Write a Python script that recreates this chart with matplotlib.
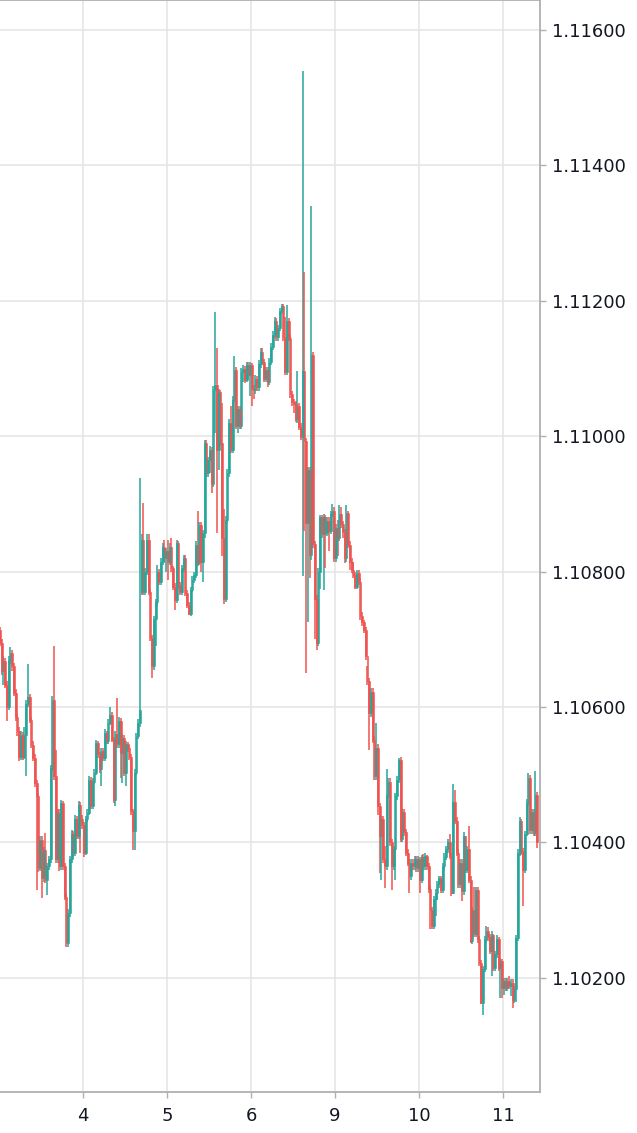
import numpy as np
import matplotlib
matplotlib.use("Agg")
import matplotlib.pyplot as plt

# EURUSD 30-minute candles, values in pips above 1.1000
base = 1.1
close_pips = [
    # day 3
    69.5, 65.3, 66.8, 63.3, 60.0, 67.0, 68.0, 66.0, 62.1, 58.6, 56.4, 52.7,
    55.9, 52.7, 55.9, 60.4, 61.5, 58.1, 54.4, 52.5, 48.8, 46.8, 36.2, 40.4,
    34.7, 38.9, 34.5, 36.5, 37.5, 51.0, 61.1, 49.8, 37.5, 44.4, 36.5, 45.8,
    36.5, 32.0, 25.1, 29.6, 37.5, 41.2, 38.4, 43.4, 41.0, 45.6, 43.5, 42.6,
    # day 4
    38.5, 43.4, 44.4, 49.3, 45.4, 49.0, 50.3, 54.7, 53.0, 50.8, 53.5, 52.5,
    56.2, 55.0, 57.7, 58.9, 55.2, 46.3, 56.0, 54.5, 58.0, 53.2, 55.5, 50.3,
    54.5, 54.0, 52.7, 44.6, 41.7, 50.3, 55.7, 57.7, 59.5, 84.7, 77.0, 80.0,
    84.7, 77.0, 70.2, 66.0, 73.0, 75.5, 80.0, 78.5, 81.5, 83.7, 82.0, 83.0,
    # day 5
    81.5, 83.7, 80.5, 77.8, 75.8, 84.2, 78.0, 77.0, 80.5, 82.0, 76.9, 75.1,
    73.8, 77.3, 78.8, 79.5, 84.0, 81.3, 86.9, 81.5, 85.7, 99.0, 94.6, 96.5,
    98.0, 93.0, 106.9, 107.5, 98.0, 106.5, 99.0, 85.0, 76.0, 87.7, 94.6, 102.0,
    98.0, 105.4, 109.8, 101.5, 104.0, 101.5, 109.5, 110.0, 108.3, 110.5, 109.0, 110.5,
    # day 6
    107.0, 106.8, 108.5, 107.2, 110.6, 112.5, 111.0, 108.5, 109.8, 108.0, 111.0, 113.2,
    115.0, 117.0, 114.6, 116.0, 118.5, 119.2, 114.6, 109.5, 117.0, 114.5, 106.2, 105.0,
    104.8, 102.6, 104.5, 101.4, 99.9, 109.6, 99.3, 87.2, 95.0, 82.5, 112.0, 84.1,
    76.0, 69.5, 80.0, 88.0, 85.5, 88.0, 85.7, 87.5, 86.0, 88.5, 89.0, 82.0,
    # day 9
    86.5, 85.0, 88.5, 87.0, 85.8, 82.0, 88.7, 84.0, 81.5, 80.3, 79.5, 77.8,
    79.8, 78.5, 73.4, 72.5, 71.4, 67.5, 63.8, 59.1, 62.3, 55.2, 49.8, 54.0,
    45.4, 40.9, 43.4, 37.5, 36.5, 47.0, 49.0, 40.0, 36.5, 39.0, 46.8, 49.3,
    52.2, 40.5, 44.5, 41.5, 38.5, 37.0, 35.0, 37.0, 36.5, 37.5, 36.2, 37.5,
    # day 10
    34.5, 37.8, 36.5, 38.0, 36.5, 33.1, 30.0, 27.7, 31.6, 32.6, 33.8, 34.8,
    33.0, 36.5, 37.9, 39.0, 40.0, 38.0, 32.6, 46.0, 43.2, 38.5, 33.8, 37.0,
    32.8, 41.0, 36.0, 39.0, 34.5, 25.4, 30.0, 26.5, 33.0, 25.7, 22.2, 16.3,
    21.3, 25.7, 27.0, 26.0, 24.0, 26.4, 21.5, 23.5, 25.8, 21.5, 22.5, 18.5,
    # day 11
    19.5, 18.5, 19.5, 18.8, 19.3, 16.8, 18.3, 25.9, 38.5, 43.2, 38.7, 36.0,
    41.2, 45.9, 49.5, 41.8, 44.5, 41.4, 47.0, 40.0,
]
high_pips = [
    71.8, 70.0, 67.5, 67.2, 63.8, 67.6, 68.9, 68.4, 66.5, 62.6, 59.0, 57.0,
    56.4, 56.3, 57.0, 61.0, 66.3, 62.0, 58.6, 55.0, 53.0, 49.2, 47.2, 41.0,
    40.9, 39.4, 41.4, 37.0, 38.0, 51.5, 61.6, 69.0, 53.7, 45.0, 44.9, 46.3,
    46.2, 37.0, 32.5, 30.2, 38.0, 41.8, 41.7, 44.0, 43.9, 46.1, 46.0, 44.0,
    43.0, 43.9, 45.0, 49.8, 49.7, 49.5, 50.8, 55.2, 55.0, 53.4, 54.0, 54.0,
    56.7, 56.5, 58.2, 60.0, 59.3, 55.6, 56.5, 61.3, 58.5, 58.4, 56.0, 55.9,
    55.0, 54.8, 54.3, 53.0, 45.0, 50.8, 56.2, 58.2, 93.8, 85.5, 90.1, 80.5,
    85.5, 85.5, 77.5, 70.6, 73.5, 76.0, 81.0, 80.4, 82.0, 84.2, 84.7, 83.5,
    84.7, 84.2, 84.9, 80.9, 78.3, 84.7, 84.5, 78.5, 81.0, 82.5, 82.4, 77.3,
    75.5, 77.8, 79.3, 80.0, 84.5, 88.9, 87.4, 87.3, 86.2, 99.5, 99.5, 97.0,
    98.5, 98.4, 107.4, 118.4, 113.0, 107.0, 106.9, 104.9, 89.2, 88.2, 95.1, 102.5,
    104.4, 105.9, 111.8, 110.3, 104.5, 104.4, 110.1, 110.5, 110.4, 111.0, 110.9, 111.0,
    110.8, 107.5, 109.0, 108.9, 111.3, 113.1, 113.0, 111.4, 110.3, 110.2, 111.5, 113.7,
    115.5, 117.6, 117.4, 116.5, 119.0, 119.6, 119.6, 117.6, 119.4, 117.4, 114.9, 106.7,
    105.5, 105.2, 109.6, 104.9, 101.9, 153.9, 124.2, 99.8, 95.5, 95.4, 134.0, 112.4,
    84.6, 76.5, 80.5, 88.4, 88.4, 88.5, 88.4, 88.0, 88.0, 89.0, 90.0, 89.5,
    87.0, 87.7, 89.9, 89.6, 87.5, 86.3, 89.9, 89.0, 84.5, 82.0, 81.5, 80.0,
    80.3, 80.3, 79.0, 74.0, 72.8, 71.9, 66.0, 64.3, 62.8, 62.8, 55.7, 57.7,
    54.5, 45.9, 43.9, 43.9, 39.5, 50.8, 49.5, 49.5, 40.5, 39.5, 47.3, 49.8,
    52.5, 52.7, 45.0, 44.9, 42.0, 39.0, 37.5, 37.5, 37.5, 38.0, 38.0, 38.0,
    37.9, 38.2, 38.3, 38.5, 38.2, 37.0, 33.6, 30.5, 32.1, 33.1, 34.3, 35.0,
    35.0, 37.0, 38.4, 39.5, 40.5, 41.2, 38.5, 48.6, 47.8, 43.7, 39.0, 37.5,
    37.5, 41.5, 41.0, 39.5, 42.4, 35.0, 30.5, 33.5, 33.5, 33.5, 26.2, 22.7,
    21.8, 26.2, 27.7, 27.5, 26.5, 26.9, 26.5, 24.0, 26.4, 26.0, 23.0, 22.8,
    20.0, 20.0, 20.0, 20.3, 19.8, 19.8, 18.8, 26.4, 39.0, 43.7, 43.5, 39.2,
    41.7, 46.4, 50.3, 50.0, 45.0, 45.0, 50.5, 47.5,
]
low_pips = [
    69.0, 64.8, 63.3, 62.8, 57.9, 59.5, 66.4, 65.4, 61.6, 58.0, 55.8, 52.0,
    52.2, 52.2, 52.3, 49.8, 60.0, 57.6, 53.9, 52.0, 48.2, 33.0, 35.6, 35.8,
    31.8, 34.2, 34.0, 32.3, 36.0, 37.0, 50.5, 49.3, 37.0, 37.0, 35.8, 36.0,
    36.0, 31.5, 24.6, 24.6, 29.0, 37.0, 37.9, 38.0, 40.5, 40.5, 38.4, 42.0,
    37.9, 38.2, 43.0, 44.0, 45.0, 45.0, 48.6, 50.0, 52.5, 50.3, 48.3, 52.0,
    52.0, 54.5, 54.6, 57.3, 54.8, 45.8, 45.4, 54.0, 54.0, 49.5, 48.8, 49.8,
    48.3, 53.3, 52.2, 44.0, 38.9, 38.9, 50.0, 55.3, 57.0, 76.5, 76.5, 76.5,
    79.5, 76.5, 69.7, 64.3, 65.5, 69.0, 75.0, 78.0, 78.0, 81.0, 81.5, 80.0,
    78.7, 81.0, 80.0, 77.3, 74.4, 75.3, 77.5, 76.5, 76.5, 80.0, 76.4, 74.6,
    73.6, 73.5, 77.0, 78.3, 79.0, 80.8, 81.0, 80.0, 78.5, 85.0, 94.0, 94.0,
    94.5, 91.6, 92.5, 100.5, 85.7, 95.0, 98.5, 82.3, 75.2, 75.5, 87.2, 94.0,
    97.5, 97.5, 105.0, 101.0, 100.5, 101.0, 101.0, 108.0, 107.8, 108.0, 108.5, 106.0,
    104.4, 105.5, 106.3, 106.7, 106.7, 110.1, 110.5, 108.0, 108.0, 107.3, 107.5, 110.5,
    112.7, 114.5, 114.1, 114.1, 115.5, 118.0, 114.1, 109.0, 109.0, 114.0, 105.7, 104.5,
    103.5, 102.1, 102.0, 100.9, 99.4, 79.3, 86.0, 65.0, 72.6, 79.0, 81.7, 83.5,
    70.0, 68.5, 69.0, 77.5, 85.0, 77.3, 80.5, 85.2, 83.0, 85.5, 88.0, 81.5,
    81.5, 82.3, 84.5, 86.5, 85.0, 81.3, 81.5, 83.5, 80.3, 79.8, 79.0, 77.4,
    77.4, 78.0, 72.9, 72.0, 70.9, 67.0, 63.3, 53.7, 58.6, 54.7, 49.3, 49.3,
    44.1, 35.5, 34.5, 37.0, 33.3, 36.0, 46.5, 39.5, 33.0, 36.0, 34.5, 46.3,
    48.8, 40.0, 40.0, 41.0, 38.0, 36.5, 32.6, 34.5, 36.0, 36.0, 35.7, 35.7,
    32.6, 34.0, 36.0, 36.0, 36.0, 32.6, 27.2, 27.2, 27.2, 29.1, 31.5, 33.3,
    32.5, 32.5, 36.0, 37.4, 38.5, 37.5, 32.1, 32.4, 42.7, 38.0, 33.3, 33.3,
    31.3, 32.3, 35.5, 35.5, 34.0, 25.2, 25.0, 26.0, 26.0, 25.2, 21.7, 16.1,
    14.5, 20.8, 25.2, 25.5, 23.5, 20.3, 21.0, 21.0, 23.0, 21.0, 17.1, 17.1,
    17.5, 18.0, 18.0, 18.3, 17.3, 15.6, 16.3, 16.5, 25.4, 38.0, 38.2, 30.6,
    35.5, 41.0, 45.5, 41.3, 41.3, 40.9, 41.0, 39.2,
]
# candles whose open differs from the previous close
open_gaps = {0: 71.4, 81: 77.0}

day_labels = ['4', '5', '6', '9', '10', '11']
price_ticks = [1.102, 1.104, 1.106, 1.108, 1.110, 1.112, 1.114, 1.116]

close = base + np.array(close_pips) / 1e4
high = base + np.array(high_pips) / 1e4
low = base + np.array(low_pips) / 1e4
opens = np.concatenate([[close[0]], close[:-1]])
for k, v in open_gaps.items():
    opens[k] = base + v / 1e4
idx = np.arange(len(close))

up_color = '#26a69a'
down_color = '#ef5350'
colors = np.where(close >= opens, up_color, down_color)

W, H = 637, 1133
fig = plt.figure(figsize=(W / 100, H / 100), dpi=100)
ax = fig.add_axes([0, 1 - 1092 / H, 540 / W, 1092 / H])

ax.vlines(idx, low, high, colors=colors, linewidth=1.1, zorder=2)
body = np.abs(close - opens)
body = np.maximum(body, 0.000015)
ax.bar(idx, body, bottom=np.minimum(opens, close), width=1.0,
       color=colors, edgecolor=colors, linewidth=0.4, zorder=3)

ax.set_xlim(0.07, 308.6)
ax.set_ylim(1.100315, 1.116443)

ax.set_xticks([48 * (d + 1) - 0.5 for d in range(len(day_labels))])
ax.set_xticklabels(day_labels)
ax.set_yticks(price_ticks)
ax.set_yticklabels(['%.5f' % t for t in price_ticks])
ax.yaxis.tick_right()

ax.grid(True, color='#e6e6e6', linewidth=1.2, zorder=0)
ax.set_axisbelow(True)
ax.spines['left'].set_visible(False)
for side in ['right', 'bottom', 'top']:
    ax.spines[side].set_color('#b0b0b0')
    ax.spines[side].set_linewidth(1.3)
ax.tick_params(axis='both', colors='#b0b0b0', length=4, width=1,
               labelcolor='#131722', labelsize=13)
ax.tick_params(axis='y', pad=5)
ax.tick_params(axis='x', pad=7)

fig.savefig('out.png', dpi=100, facecolor='white')
